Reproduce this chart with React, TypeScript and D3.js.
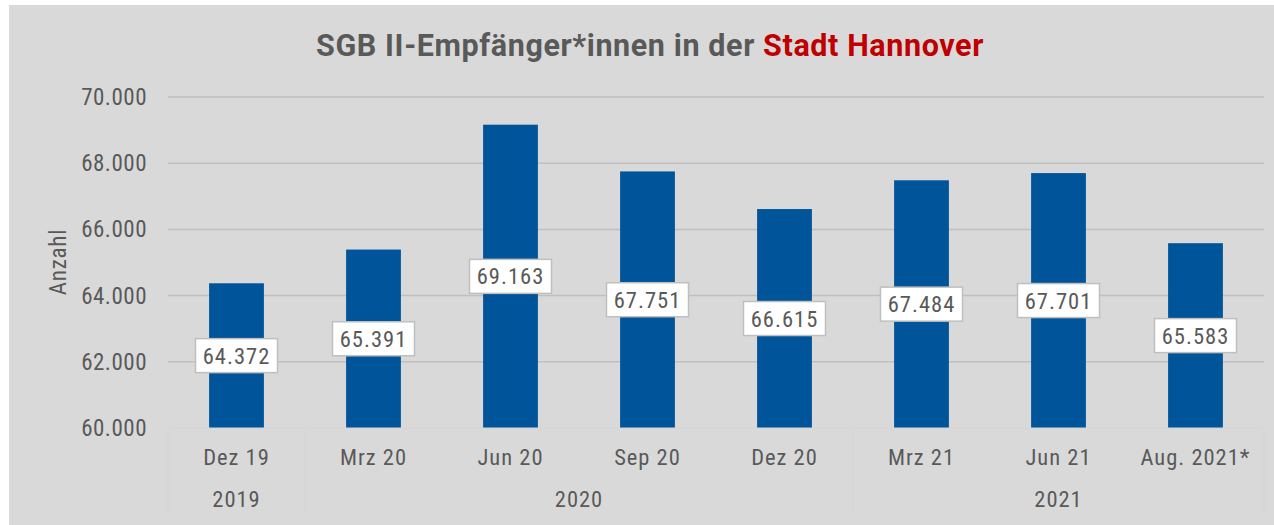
import React from "react";
import * as d3 from "d3";

const categories = ["Dez 19", "Mrz 20", "Jun 20", "Sep 20", "Dez 20", "Mrz 21", "Jun 21", "Aug. 2021*"];
const values = [64372, 65391, 69163, 67751, 66615, 67484, 67701, 65583];
const yTicks = [60000, 62000, 64000, 66000, 68000, 70000];
const yearGroups = [
  { label: "2019", from: 0, to: 0 },
  { label: "2020", from: 1, to: 4 },
  { label: "2021", from: 5, to: 7 },
];

const W = 1274;
const H = 525;
const FONT = "'Liberation Sans Narrow', 'Roboto Condensed', Roboto, sans-serif";
const TFONT = "Roboto, sans-serif";
const TXT = "#595959";

export default function App() {
  const x = d3.scaleBand<string>().domain(categories).range([168, 1264]).paddingInner(0.6).paddingOuter(0.3);
  const y = d3.scaleLinear().domain([60000, 70000]).range([428, 97]);
  const fmt = (v: number) => d3.format(",")(v).replace(/,/g, ".");
  const band = (1264 - 168) / categories.length;
  const center = (i: number) => (x(categories[i]) as number) + x.bandwidth() / 2;
  const ls = 1;

  return (
    <svg width={W} height={H} style={{ position: "absolute", left: 0, top: 0 }}>
      <rect x={9} y={5} width={W - 9} height={H - 5} fill="#d9d9d9" />
      <text x={650} y={56} textAnchor="middle" fontFamily={TFONT} fontWeight="bold" fontSize={30.5} letterSpacing={0.6} fill={TXT}>
        SGB II-Empfänger*innen in der <tspan fill="#c00000">Stadt Hannover</tspan>
      </text>
      {yTicks.map((t) => (
        <g key={t}>
          {t > 60000 && <line x1={168} x2={1264} y1={y(t)} y2={y(t)} stroke="#bfbfbf" strokeWidth={1.5} />}
          <text x={147} y={y(t) + 8} textAnchor="end" fontFamily={FONT} fontSize={23} letterSpacing={0.5} fill={TXT}>
            {fmt(t)}
          </text>
        </g>
      ))}
      <text transform={`translate(66,262) rotate(-90)`} textAnchor="middle" fontFamily={FONT} fontSize={23} letterSpacing={0.8} fill={TXT}>
        Anzahl
      </text>
      {values.map((v, i) => (
        <rect key={i} x={x(categories[i])} y={y(v)} width={x.bandwidth()} height={y(60000) - y(v)} fill="#00549a" />
      ))}
      <line x1={168} x2={1264} y1={428} y2={428} stroke="#d5d5d5" strokeWidth={1} />
      {values.map((v, i) => {
        const cy = (y(v) + y(60000)) / 2;
        const bw = 82;
        const bh = 34;
        return (
          <g key={i}>
            <rect x={center(i) - bw / 2} y={cy - bh / 2} width={bw} height={bh} fill="#ffffff" stroke="#bfbfbf" strokeWidth={1.5} />
            <text x={center(i)} y={cy + 8} textAnchor="middle" fontFamily={FONT} fontSize={22.5} letterSpacing={ls} fill={TXT}>
              {fmt(v)}
            </text>
          </g>
        );
      })}
      {categories.map((c, i) => (
        <text key={c} x={center(i)} y={465} textAnchor="middle" fontFamily={FONT} fontSize={22.5} letterSpacing={ls} fill={TXT}>
          {c}
        </text>
      ))}
      {yearGroups.map((g) => (
        <text key={g.label} x={(center(g.from) + center(g.to)) / 2} y={507} textAnchor="middle" fontFamily={FONT} fontSize={22.5} letterSpacing={ls} fill={TXT}>
          {g.label}
        </text>
      ))}
      {[0, 1, 5, 8].map((k) => (
        <line key={k} x1={168 + k * band} x2={168 + k * band} y1={428} y2={513} stroke="#d5d5d5" strokeWidth={1} />
      ))}
    </svg>
  );
}
